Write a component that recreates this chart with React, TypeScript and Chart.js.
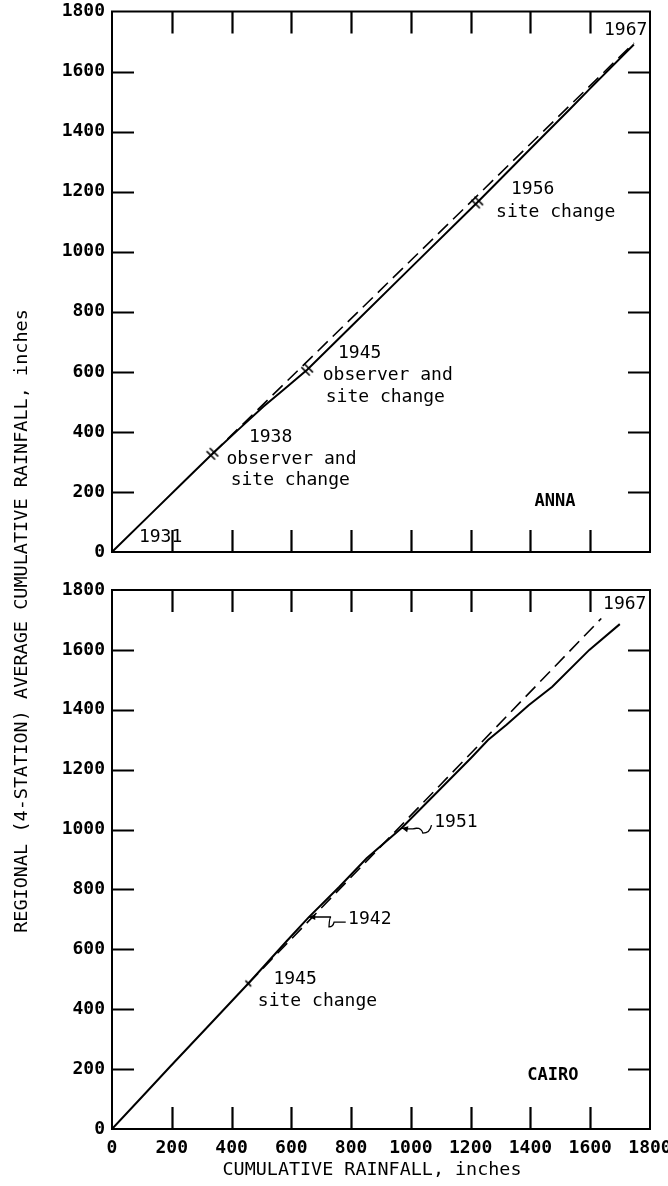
import React, { useEffect, useRef } from 'react';
import { Chart, registerables } from 'chart.js';

Chart.register(...registerables);

const W = 668;
const H = 1186;
const MONO = '"DejaVu Sans Mono", "Liberation Mono", monospace';

// ---- axis ticks (inches) ----
const xTickValues = [0, 200, 400, 600, 800, 1000, 1200, 1400, 1600, 1800];
const yTickValues = [0, 200, 400, 600, 800, 1000, 1200, 1400, 1600, 1800];

// ---- ANNA: station cumulative rainfall (x) vs regional average (y) ----
const annaRainfall = [0, 120, 240, 336, 420, 506, 580, 653, 800, 1000, 1222, 1400, 1530, 1600, 1746];
const annaRegional = [0, 117, 234, 327, 405, 484, 545, 607, 751, 947, 1164, 1343, 1473, 1544, 1690];
// projected trend (dashed)
const annaTrendX = [336, 1746];
const annaTrendY = [327, 1695];
// site / observer changes
const annaChangeX = [336, 653, 1222];
const annaChangeY = [327, 607, 1164];

// ---- CAIRO ----
const cairoRainfall = [0, 100, 194, 328, 456, 584, 657, 760, 852, 969, 1100, 1202, 1258, 1320, 1394, 1473, 1597, 1699];
const cairoRegional = [0, 107, 208, 350, 486, 627, 706, 808, 904, 1005, 1137, 1240, 1299, 1350, 1415, 1477, 1600, 1686];
const cairoTrendX = [456, 1637];
const cairoTrendY = [486, 1705];
const cairoChangeX = [456];
const cairoChangeY = [486];

// ---- annotation texts (anchored in data units) ----
type Note = { text: string; x: number; y: number; align: CanvasTextAlign; bold?: boolean };
const annaNotes: Note[] = [
  { text: '1967', x: 1646, y: 1737, align: 'left' },
  { text: '1956', x: 1335, y: 1207, align: 'left' },
  { text: 'site change', x: 1285, y: 1130, align: 'left' },
  { text: '1945', x: 756, y: 660, align: 'left' },
  { text: 'observer and', x: 705, y: 588, align: 'left' },
  { text: 'site change', x: 715, y: 515, align: 'left' },
  { text: '1938', x: 458, y: 382, align: 'left' },
  { text: 'observer and', x: 383, y: 310, align: 'left' },
  { text: 'site change', x: 397, y: 240, align: 'left' },
  { text: '1931', x: 90, y: 50, align: 'left' },
  { text: 'ANNA', x: 1482, y: 167, align: 'center', bold: true },
];
const cairoNotes: Note[] = [
  { text: '1967', x: 1643, y: 1752, align: 'left' },
  { text: '1951', x: 1078, y: 1024, align: 'left' },
  { text: '1942', x: 790, y: 700, align: 'left' },
  { text: '1945', x: 540, y: 499, align: 'left' },
  { text: 'site change', x: 488, y: 426, align: 'left' },
  { text: 'CAIRO', x: 1475, y: 177, align: 'center', bold: true },
];
// wavy leader arrows (data units, last point is the arrow tip)
const cairoArrows: number[][][] = [
  [[1069, 1015], [1040, 988], [1019, 1005], [984, 1002], [969, 1005]],
  [[782, 691], [743, 691], [726, 675], [733, 708], [659, 708]],
];

const Y_TITLE = 'REGIONAL (4-STATION) AVERAGE CUMULATIVE RAINFALL, inches';
const X_TITLE = 'CUMULATIVE RAINFALL, inches';

function makeMarker(double: boolean): HTMLCanvasElement {
  const c = document.createElement('canvas');
  c.width = 18;
  c.height = 18;
  const g = c.getContext('2d')!;
  g.strokeStyle = '#000';
  g.lineWidth = 1.6;
  const offs = double ? [-2.2, 2.2] : [0];
  const ux = Math.SQRT1_2, uy = -Math.SQRT1_2;
  const px = Math.SQRT1_2, py = Math.SQRT1_2;
  const len = double ? 6 : 4;
  for (const o of offs) {
    const cx = 9 + o * ux, cy = 9 + o * uy;
    g.beginPath();
    g.moveTo(cx - len * px, cy - len * py);
    g.lineTo(cx + len * px, cy + len * py);
    g.stroke();
  }
  return c;
}

const framePlugin = {
  id: 'frame',
  afterDatasetsDraw(chart: any) {
    const { ctx, chartArea: a, scales } = chart;
    const xs = scales.x, ys = scales.y;
    const T = 22;
    ctx.save();
    ctx.strokeStyle = '#000';
    ctx.lineWidth = 2.2;
    ctx.lineCap = 'butt';
    xTickValues.forEach((v, i) => {
      if (i === 0 || i === xTickValues.length - 1) return;
      const px = Math.round(xs.getPixelForValue(v)) + 0.5;
      ctx.beginPath();
      ctx.moveTo(px, a.top); ctx.lineTo(px, a.top + T);
      ctx.moveTo(px, a.bottom); ctx.lineTo(px, a.bottom - T);
      ctx.stroke();
    });
    yTickValues.forEach((v, i) => {
      if (i === 0 || i === yTickValues.length - 1) return;
      const py = Math.round(ys.getPixelForValue(v)) + 0.5;
      ctx.beginPath();
      ctx.moveTo(a.left, py); ctx.lineTo(a.left + T, py);
      ctx.moveTo(a.right, py); ctx.lineTo(a.right - T, py);
      ctx.stroke();
    });
    ctx.lineWidth = 2;
    ctx.strokeRect(a.left, a.top, a.right - a.left, a.bottom - a.top);
    ctx.restore();
  },
};

function notesPlugin(notes: Note[], arrows: number[][][], drawYTitle: boolean, drawXTitle: boolean) {
  return {
    id: 'notes',
    afterDraw(chart: any) {
      const { ctx, scales } = chart;
      const xs = scales.x, ys = scales.y;
      ctx.save();
      ctx.fillStyle = '#000';
      ctx.textBaseline = 'middle';
      for (const n of notes) {
        ctx.font = (n.bold ? 'bold 17px ' : '18px ') + MONO;
        ctx.textAlign = n.align;
        ctx.fillText(n.text, xs.getPixelForValue(n.x), ys.getPixelForValue(n.y));
      }
      ctx.strokeStyle = '#000';
      ctx.lineWidth = 1.3;
      for (const path of arrows) {
        const pts = path.map(([vx, vy]) => [xs.getPixelForValue(vx), ys.getPixelForValue(vy)]);
        ctx.beginPath();
        ctx.moveTo(pts[0][0], pts[0][1]);
        for (let i = 1; i < pts.length - 1; i++) {
          const [x0] = pts[i - 1];
          const [x1, y1] = pts[i];
          ctx.quadraticCurveTo(x0 + (x1 - x0) * 0.2, y1, x1, y1);
        }
        const tip = pts[pts.length - 1];
        const prev = pts[pts.length - 2];
        ctx.lineTo(tip[0], tip[1]);
        ctx.stroke();
        const ang = Math.atan2(tip[1] - prev[1], tip[0] - prev[0]);
        const L = 7;
        ctx.beginPath();
        ctx.moveTo(tip[0], tip[1]);
        ctx.lineTo(tip[0] - L * Math.cos(ang - 0.45), tip[1] - L * Math.sin(ang - 0.45));
        ctx.lineTo(tip[0] - L * Math.cos(ang + 0.45), tip[1] - L * Math.sin(ang + 0.45));
        ctx.closePath();
        ctx.fill();
      }
      if (drawXTitle) {
        ctx.font = '18.4px ' + MONO;
        ctx.textAlign = 'center';
        ctx.fillText(X_TITLE, 372, 1170);
      }
      if (drawYTitle) {
        ctx.translate(22, 621);
        ctx.rotate(-Math.PI / 2);
        ctx.font = '18.5px ' + MONO;
        ctx.textAlign = 'center';
        ctx.fillText(Y_TITLE, 0, 0);
      }
      ctx.restore();
    },
  };
}

const plainLabel = (v: any) => String(v);
const noOverflowPadding = (s: any) => {
  s.paddingLeft = 0;
  s.paddingRight = 0;
  s.paddingTop = 0;
  s.paddingBottom = 0;
};

function buildConfig(opts: {
  solidX: number[]; solidY: number[];
  trendX: number[]; trendY: number[];
  changeX: number[]; changeY: number[];
  doubleMarker: boolean;
  notes: Note[]; arrows: number[][][];
  padding: { top: number; right: number; bottom: number; left: number };
  showX: boolean; yTitle: boolean;
}): any {
  const tickFont = { family: MONO, size: 18, weight: 'bold' };
  return {
    type: 'line',
    data: {
      datasets: [
        {
          data: opts.solidX.map((x, i) => ({ x, y: opts.solidY[i] })),
          borderColor: '#000', borderWidth: 2, pointRadius: 0, tension: 0, fill: false,
        },
        {
          data: opts.trendX.map((x, i) => ({ x, y: opts.trendY[i] })),
          borderColor: '#000', borderWidth: 1.6, borderDash: [14, 7], pointRadius: 0, fill: false,
        },
        {
          type: 'scatter',
          data: opts.changeX.map((x, i) => ({ x, y: opts.changeY[i] })),
          pointStyle: makeMarker(opts.doubleMarker), pointRadius: 9, showLine: false,
        },
      ],
    },
    options: {
      animation: false,
      responsive: false,
      events: [],
      layout: { padding: opts.padding },
      plugins: { legend: { display: false }, tooltip: { enabled: false } },
      scales: {
        x: {
          type: 'linear', min: 0, max: 1800,
          afterBuildTicks: (s: any) => { s.ticks = xTickValues.map((v) => ({ value: v })); },
          ticks: { display: opts.showX, padding: 9, font: tickFont, color: '#000', maxRotation: 0, autoSkip: false, callback: plainLabel },
          grid: { display: false, drawTicks: false },
          border: { display: false },
          afterFit: (s: any) => { s.height = opts.showX ? 52 : 0; noOverflowPadding(s); },
        },
        y: {
          type: 'linear', min: 0, max: 1800,
          afterBuildTicks: (s: any) => { s.ticks = yTickValues.map((v) => ({ value: v })); },
          ticks: { padding: 7, font: tickFont, color: '#000', autoSkip: false, callback: plainLabel },
          grid: { display: false, drawTicks: false },
          border: { display: false },
          afterFit: (s: any) => { s.width = 112; noOverflowPadding(s); },
        },
      },
    },
    plugins: [framePlugin, notesPlugin(opts.notes, opts.arrows, opts.yTitle, opts.showX)],
  };
}

export default function App() {
  const topRef = useRef<HTMLCanvasElement>(null);
  const botRef = useRef<HTMLCanvasElement>(null);

  useEffect(() => {
    const top = new Chart(topRef.current!, buildConfig({
      solidX: annaRainfall, solidY: annaRegional,
      trendX: annaTrendX, trendY: annaTrendY,
      changeX: annaChangeX, changeY: annaChangeY,
      doubleMarker: true,
      notes: annaNotes, arrows: [],
      padding: { top: 11.5, right: 18, bottom: 634, left: 0 },
      showX: false, yTitle: true,
    }));
    const bot = new Chart(botRef.current!, buildConfig({
      solidX: cairoRainfall, solidY: cairoRegional,
      trendX: cairoTrendX, trendY: cairoTrendY,
      changeX: cairoChangeX, changeY: cairoChangeY,
      doubleMarker: false,
      notes: cairoNotes, arrows: cairoArrows,
      padding: { top: 590, right: 18, bottom: 5, left: 0 },
      showX: true, yTitle: false,
    }));
    return () => { top.destroy(); bot.destroy(); };
  }, []);

  const cs: React.CSSProperties = { position: 'absolute', left: 0, top: 0, width: W, height: H };
  return (
    <div style={{ position: 'absolute', left: 0, top: 0, width: W, height: H, background: '#fff', overflow: 'hidden' }}>
      <canvas ref={botRef} width={W} height={H} style={cs} />
      <canvas ref={topRef} width={W} height={H} style={cs} />
    </div>
  );
}
